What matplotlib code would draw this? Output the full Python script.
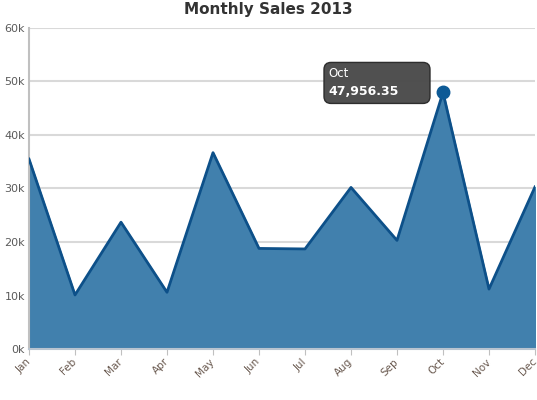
import matplotlib
matplotlib.use("Agg")
import matplotlib.pyplot as plt
from matplotlib.patches import FancyBboxPatch

months = ["Jan", "Feb", "Mar", "Apr", "May", "Jun", "Jul", "Aug", "Sep", "Oct", "Nov", "Dec"]
sales = [35500, 10100, 23700, 10600, 36700, 18800, 18700, 30200, 20300, 47956.35, 11200, 30300]
yticks = [0, 10000, 20000, 30000, 40000, 50000, 60000]
ytick_labels = ["0k", "10k", "20k", "30k", "40k", "50k", "60k"]
highlight = 9

fig = plt.figure(figsize=(5.37, 4.0), dpi=100)
ax = fig.add_axes([29/537, 51/400, 506/537, 321/400])
x = list(range(len(months)))
ax.fill_between(x, sales, 0, color="#4180ad", zorder=2)
ax.plot(x, sales, color="#0d5089", lw=2, zorder=3)
ax.plot([x[highlight]], [sales[highlight]], "o", color="#0d5a96", ms=9, zorder=4, clip_on=False)

ax.set_xlim(0, 11)
ax.set_ylim(0, 60000)
ax.set_yticks(yticks)
ax.set_yticklabels(ytick_labels)
ax.set_xticks(x)
ax.set_xticklabels(months, rotation=45, ha="right", va="center", rotation_mode="anchor")
ax.grid(axis="y", color="#d9d9d9", lw=1.5, zorder=1)
ax.set_axisbelow(True)
for s in ["top", "right"]:
    ax.spines[s].set_visible(False)
ax.spines["left"].set_color("#c0c0c0")
ax.spines["left"].set_linewidth(1.5)
ax.spines["bottom"].set_color("#b8c4d0")
ax.spines["bottom"].set_linewidth(1.5)
ax.tick_params(axis="y", length=0, labelsize=8, labelcolor="#5a5a5a", pad=3)
ax.tick_params(axis="x", length=4, color="#c0c0c0", labelsize=7.5, labelcolor="#6a5a50", pad=4)

fig.suptitle("Monthly Sales 2013", y=0.995, va="top", fontsize=11, fontweight="bold", color="#333333")

# tooltip
px, py = x[highlight], sales[highlight]
disp = ax.transData.transform((px, py))
bx = disp[0] / fig.dpi - 119/100
by = disp[1] / fig.dpi - 11/100
bw, bh = 106/100, 41/100
rect = FancyBboxPatch((bx, by), bw, bh, boxstyle="round,pad=0,rounding_size=0.07",
                      transform=fig.dpi_scale_trans,
                      facecolor="#4a4a4a", edgecolor="#2a2a2a", lw=1, zorder=10, alpha=0.97)
rect.set_clip_on(False)
fig.add_artist(rect)
fig.text(bx + 4/100, by + bh - 5/100, "Oct", color="white", fontsize=8.5, va="top", ha="left",
         zorder=11, transform=fig.dpi_scale_trans)
fig.text(bx + 4/100, by + 5/100, "{:,.2f}".format(py), color="white", fontsize=9, fontweight="bold",
         va="bottom", ha="left", zorder=11, transform=fig.dpi_scale_trans)

fig.savefig("out.png", dpi=100)
